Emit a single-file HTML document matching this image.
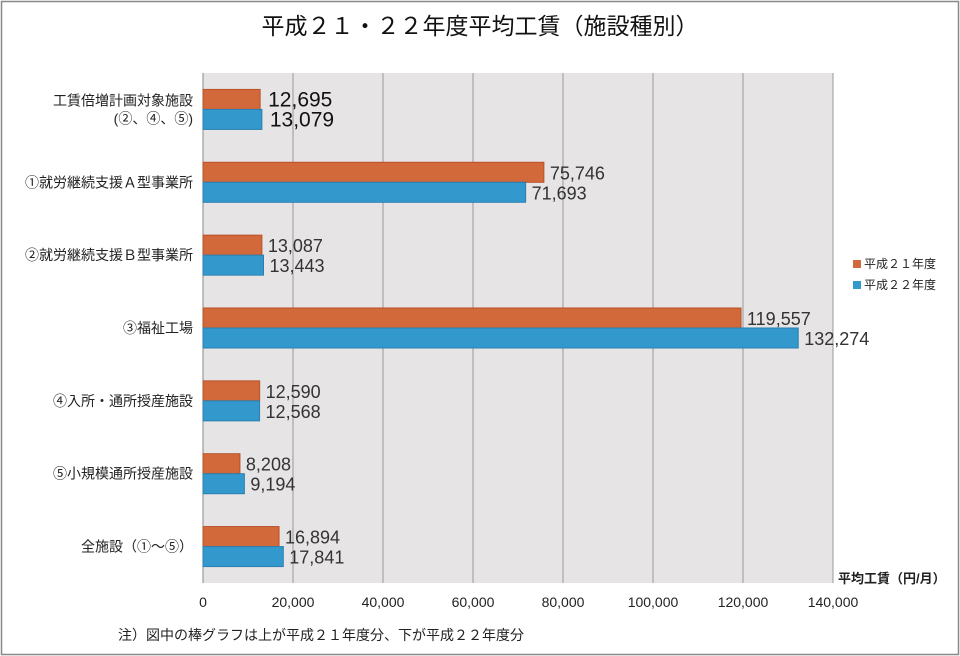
<!DOCTYPE html>
<html><head><meta charset="utf-8">
<style>
body{margin:0;background:#fff;}
#wrap{position:relative;width:960px;height:656px;overflow:hidden;font-family:"Liberation Sans","Noto Sans CJK JP",sans-serif;}
</style></head>
<body>
<div id="wrap">
<svg id="chart" width="960" height="656" xmlns="http://www.w3.org/2000/svg">
<rect x="1.5" y="1.5" width="957" height="653" fill="#fff" stroke="#888" stroke-width="1.5"/>
<text x="480" y="34" text-anchor="middle" font-size="23" fill="#111" font-family="Liberation Sans,Noto Sans CJK JP,sans-serif">平成２１・２２年度平均工賃（施設種別）</text>
<g id="plot"></g>
<text x="838" y="583" font-size="13" font-weight="bold" fill="#222" font-family="Liberation Sans,Noto Sans CJK JP,sans-serif">平均工賃（円/月）</text>
<text x="118" y="640" font-size="14" fill="#222" font-family="Liberation Sans,Noto Sans CJK JP,sans-serif">注）図中の棒グラフは上が平成２１年度分、下が平成２２年度分</text>
<g>
<rect x="853" y="260" width="8" height="8" fill="#d2693a"/>
<text x="864" y="268" font-size="12" fill="#222" font-family="Liberation Sans,Noto Sans CJK JP,sans-serif">平成２１年度</text>
<rect x="853" y="281" width="8" height="8" fill="#3399cc"/>
<text x="864" y="289" font-size="12" fill="#222" font-family="Liberation Sans,Noto Sans CJK JP,sans-serif">平成２２年度</text>
</g>
</svg>
</div>
<script>
const categories=[["工賃倍増計画対象施設","(②、④、⑤)"],["①就労継続支援Ａ型事業所"],["②就労継続支援Ｂ型事業所"],["③福祉工場"],["④入所・通所授産施設"],["⑤小規模通所授産施設"],["全施設（①～⑤）"]];
const seriesH21=[12695,75746,13087,119557,12590,8208,16894];
const seriesH22=[13079,71693,13443,132274,12568,9194,17841];
const tickValues=[0,20000,40000,60000,80000,100000,120000,140000];
const tickLabels=["0","20,000","40,000","60,000","80,000","100,000","120,000","140,000"];

const NS="http://www.w3.org/2000/svg";
const L=203,R=833,T=73,B=583,XMAX=140000;
const xs=v=>L+(v/XMAX)*(R-L);
const band=(B-T)/categories.length;
const ys=i=>T+band*i+band/2;
const g=document.getElementById('plot');
const fnt="Liberation Sans,Noto Sans CJK JP,sans-serif";
function mk(tag,attrs){const e=document.createElementNS(NS,tag);for(const k in attrs)e.setAttribute(k,attrs[k]);g.appendChild(e);return e;}

let bg=mk('rect',{x:L,y:T,width:R-L,height:B-T,fill:'#e6e4e4'});


tickValues.forEach((v,i)=>{
  if(v>0){let gl=mk('line',{x1:xs(v),x2:xs(v),y1:T,y2:B,stroke:'#9a9a9a','stroke-width':1});
  
  }
  let t=mk('text',{x:xs(v),y:607,'text-anchor':'middle','font-size':14,fill:'#222','font-family':fnt});
  t.textContent=tickLabels[i];
  
  
});
let ax=mk('line',{x1:L,x2:L,y1:T,y2:B,stroke:'#888','stroke-width':1});


const fmt=v=>v.toLocaleString('en-US');
categories.forEach((c,i)=>{
  const cy=ys(i);
  const big=i===0;
  [[seriesH21,'#d2693a','#b8502a',-20],[seriesH22,'#3399cc','#2a7fb0',0]].forEach(([s,fill,st,off],k)=>{
    const v=s[i];
    let b=mk('rect',{x:L,y:cy+off,width:xs(v)-L,height:20,fill:fill,stroke:st,'stroke-width':1});
    
    
    let t=mk('text',{x:xs(v)+(big?8:6),y:cy+off+17,'font-size':big?21:18,fill:big?'#111':'#333','font-family':fnt});
    t.textContent=fmt(v);
    
    
  });
  c.forEach((line,j)=>{
    let t=mk('text',{x:193,y:cy+5+(c.length>1?(j===0?-9:9):0),'text-anchor':'end','font-size':14,fill:'#222','font-family':fnt});
    t.textContent=line;
    
    
  });
});
</script>
</body></html>
